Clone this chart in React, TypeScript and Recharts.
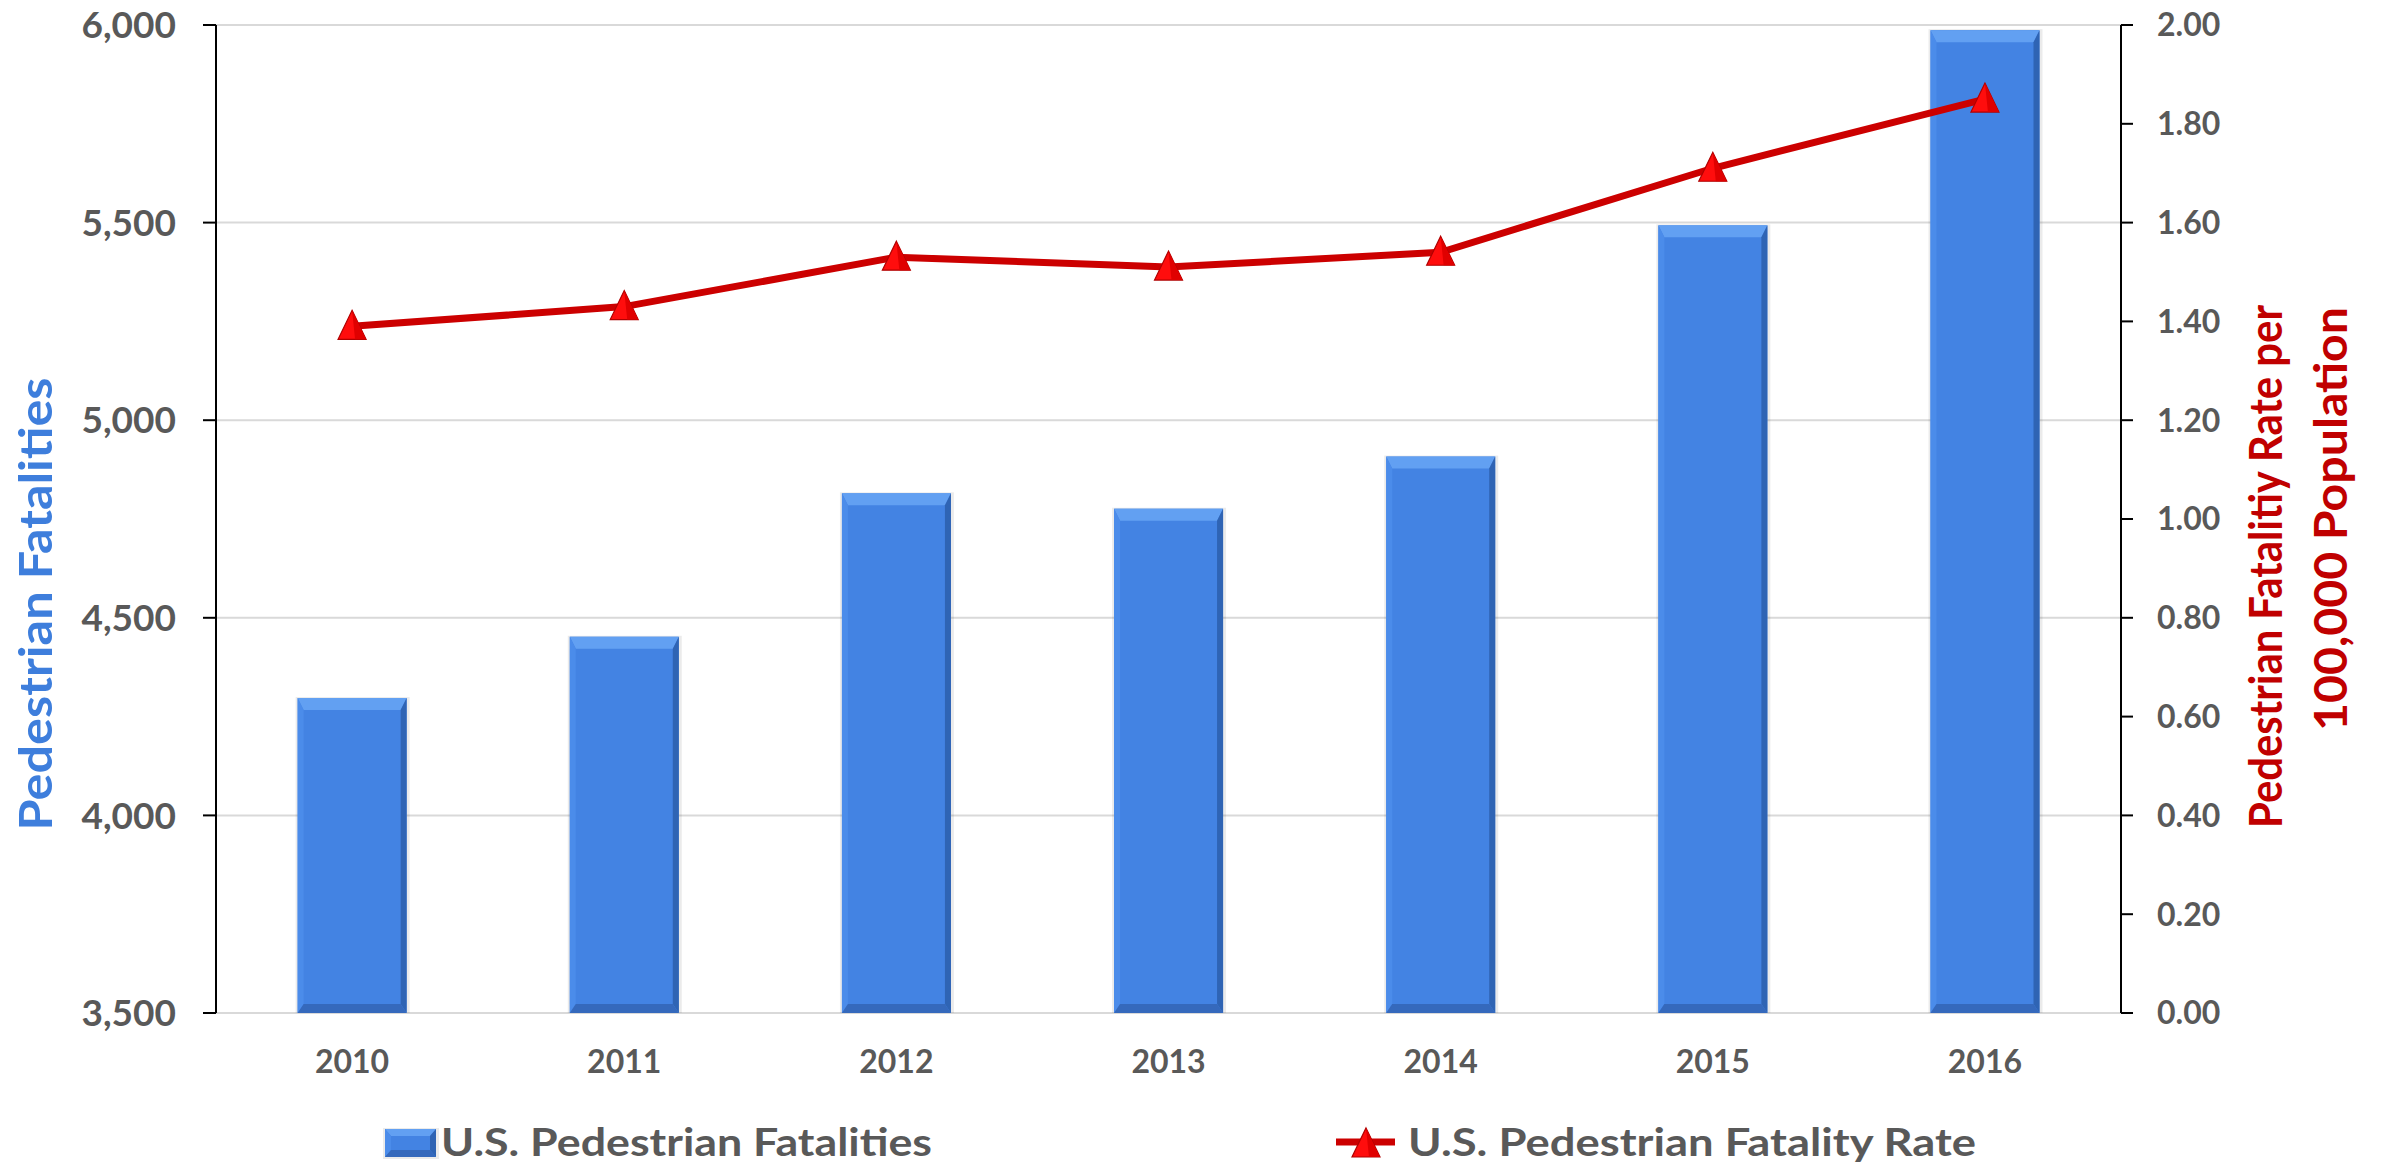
import React from "react";
import {
  ComposedChart,
  Bar,
  Line,
  XAxis,
  YAxis,
  CartesianGrid,
  Legend,
} from "recharts";

const years = ["2010", "2011", "2012", "2013", "2014", "2015", "2016"];
const fatalities = [4297, 4452, 4815, 4776, 4908, 5493, 5987];
const fatalityRate = [1.39, 1.43, 1.53, 1.51, 1.54, 1.71, 1.85];
const leftTicks = [3500, 4000, 4500, 5000, 5500, 6000];
const rightTicks = [0, 0.2, 0.4, 0.6, 0.8, 1.0, 1.2, 1.4, 1.6, 1.8, 2.0];
const barName = "U.S. Pedestrian Fatalities";
const lineName = "U.S. Pedestrian Fatality Rate";
const leftTitle = "Pedestrian Fatalities";
const rightTitle1 = "Pedestrian Fatalitiy Rate per";
const rightTitle2 = "100,000 Population";

const data = years.map((y, i) => ({
  year: y,
  fatalities: fatalities[i],
  rate: fatalityRate[i],
}));

const FONT = "Lato, 'Open Sans', sans-serif";
const GREY = "#595959";
const BLUE = "#4383E3";
const RED = "#CC0000";

const BevelBar = (props: any) => {
  const { x, y, width, height } = props;
  if (!width || !height) return null;
  const bt = Math.min(12, height / 4);
  const bs = Math.min(6, width / 6);
  const bb = Math.min(9, height / 4);
  return (
    <g>
      <rect x={x - 2} y={y - 1} width={width + 5} height={height + 3} fill="rgba(0,0,0,0.08)" />
      <rect x={x} y={y} width={width} height={height} fill={BLUE} />
      <polygon
        points={`${x},${y} ${x + width},${y} ${x + width - bs},${y + bt} ${x + bs},${y + bt}`}
        fill="#62A0F2"
      />
      <polygon
        points={`${x},${y} ${x + bs},${y + bt} ${x + bs},${y + height - bb} ${x},${y + height}`}
        fill="#4B8CEA"
      />
      <polygon
        points={`${x + width},${y} ${x + width},${y + height} ${x + width - bs},${y + height - bb} ${x + width - bs},${y + bt}`}
        fill="#2F64B4"
      />
      <polygon
        points={`${x},${y + height} ${x + width},${y + height} ${x + width - bs},${y + height - bb} ${x + bs},${y + height - bb}`}
        fill="#3569BC"
      />
    </g>
  );
};

const Tri = (props: any) => {
  const { cx, cy, index } = props;
  if (cx == null || cy == null) return null;
  return (
    <g key={`tri-${index}`}>
      <polygon
        points={`${cx},${cy - 16} ${cx + 14},${cy + 13} ${cx - 14},${cy + 13}`}
        fill="#FF0D0D"
        stroke="#B00000"
        strokeWidth={1.2}
      />
      <polygon
        points={`${cx},${cy - 16} ${cx + 14},${cy + 13} ${cx + 3},${cy + 13}`}
        fill="#E00000"
      />
    </g>
  );
};

const XTick = (props: any) => {
  const { x, y, payload } = props;
  return (
    <text
      x={x}
      y={y + 60}
      textAnchor="middle"
      fontFamily={FONT}
      fontWeight={700}
      fontSize={32}
      fill={GREY}
    >
      {payload.value}
    </text>
  );
};

const LeftTitle = (props: any) => {
  const vb = props.viewBox || { x: 0, y: 0, width: 0, height: 0 };
  const x = vb.x + 52;
  const y = 604;
  return (
    <text
      x={x}
      y={y}
      transform={`rotate(-90, ${x}, ${y})`}
      textAnchor="middle"
      fontFamily={FONT}
      fontWeight={700}
      fontSize={46}
      fill="#3E7EDC"
      textLength={453}
      lengthAdjust="spacingAndGlyphs"
    >
      {leftTitle}
    </text>
  );
};

const RightTitle = (props: any) => {
  const vb = props.viewBox || { x: 0, y: 0, width: 0, height: 0 };
  const x1 = vb.x + 161;
  const x2 = vb.x + 226;
  const y1 = 828;
  const y2 = 731;
  return (
    <g>
      <text
        x={x1}
        y={y1}
        transform={`rotate(-90, ${x1}, ${y1})`}
        textAnchor="start"
        fontFamily={FONT}
        fontWeight={700}
        fontSize={46}
        fill="#C00000"
        textLength={523}
        lengthAdjust="spacingAndGlyphs"
      >
        {rightTitle1}
      </text>
      <text
        x={x2}
        y={y2}
        transform={`rotate(-90, ${x2}, ${y2})`}
        textAnchor="start"
        fontFamily={FONT}
        fontWeight={700}
        fontSize={46}
        fill="#C00000"
        textLength={424}
        lengthAdjust="spacingAndGlyphs"
      >
        {rightTitle2}
      </text>
    </g>
  );
};

const LegendContent = () => (
  <svg width={2384} height={64} style={{ display: "block" }}>
    <BevelBar x={385} y={29} width={51} height={28} />
    <text
      x={441}
      y={56}
      fontFamily={FONT}
      fontWeight={700}
      fontSize={39}
      fill={GREY}
      textLength={491}
      lengthAdjust="spacingAndGlyphs"
    >
      {barName}
    </text>
    <line x1={1336} y1={42} x2={1395} y2={42} stroke={RED} strokeWidth={7} />
    <Tri cx={1366} cy={44} index={99} />
    <text
      x={1408}
      y={56}
      fontFamily={FONT}
      fontWeight={700}
      fontSize={39}
      fill={GREY}
      textLength={568}
      lengthAdjust="spacingAndGlyphs"
    >
      {lineName}
    </text>
  </svg>
);

export default function App() {
  return (
    <div style={{ position: "absolute", left: 0, top: 0, background: "#fff" }}>
      <ComposedChart
        width={2384}
        height={1164}
        data={data}
        margin={{ top: 25, right: 0, bottom: 0, left: 0 }}
        barCategoryGap="30%"
      >
        <CartesianGrid
          yAxisId="left"
          vertical={false}
          stroke="#D9D9D9"
          strokeWidth={2}
        />
        <XAxis
          dataKey="year"
          height={151}
          axisLine={false}
          tickLine={false}
          tickSize={0}
          tickMargin={0}
          tick={<XTick />}
          interval={0}
        />
        <YAxis
          yAxisId="left"
          orientation="left"
          width={216}
          domain={[3500, 6000]}
          ticks={leftTicks}
          interval={0}
          allowDataOverflow
          tickFormatter={(v: number) => v.toLocaleString("en-US")}
          axisLine={{ stroke: "#000", strokeWidth: 2 }}
          tickLine={{ stroke: "#000", strokeWidth: 2 }}
          tickSize={13}
          tickMargin={27}
          tick={{ fontFamily: FONT, fontWeight: 700, fontSize: 37, fill: GREY }}
          label={{ content: <LeftTitle /> }}
        />
        <YAxis
          yAxisId="right"
          orientation="right"
          width={263}
          domain={[0, 2]}
          ticks={rightTicks}
          interval={0}
          tickFormatter={(v: number) => v.toFixed(2)}
          axisLine={{ stroke: "#000", strokeWidth: 2 }}
          tickLine={{ stroke: "#000", strokeWidth: 2 }}
          tickSize={12}
          tickMargin={24}
          tick={{ fontFamily: FONT, fontWeight: 700, fontSize: 32, fill: GREY }}
          label={{ content: <RightTitle /> }}
        />
        <Legend
          verticalAlign="middle"
          align="center"
          layout="horizontal"
          wrapperStyle={{ position: "absolute", top: 1100, left: 0, width: 2384, height: 64 }}
          content={<LegendContent />}
        />
        <Bar
          yAxisId="left"
          dataKey="fatalities"
          name={barName}
          shape={<BevelBar />}
          isAnimationActive={false}
        />
        <Line
          yAxisId="right"
          dataKey="rate"
          name={lineName}
          type="linear"
          stroke={RED}
          strokeWidth={7}
          dot={<Tri />}
          activeDot={false}
          isAnimationActive={false}
        />
      </ComposedChart>
    </div>
  );
}
